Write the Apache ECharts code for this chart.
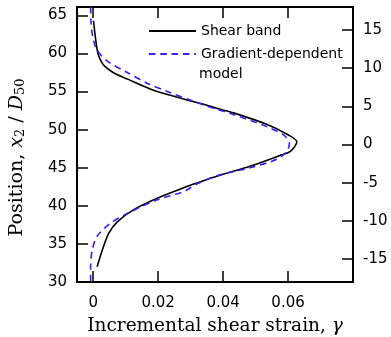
<!DOCTYPE html>
<html>
<head>
<meta charset="utf-8">
<script src="https://cdn.jsdelivr.net/npm/echarts@6/dist/echarts.min.js"></script>
<style>
  html, body { margin: 0; padding: 0; background: #fff; }
  #chart { width: 391px; height: 337px; }
</style>
</head>
<body>
<div id="chart"></div>
<script>
// Shear band profile vs gradient-dependent model: position (x2/D50) against incremental shear strain.
const shearBandPos = [64.3, 63.8, 62.0, 60.1, 59.0, 58.3, 57.4, 56.6, 55.8, 55.0, 53.9, 53.4, 52.8, 52.2,
  50.7, 49.3, 48.4, 47.1, 46.6, 45.2, 44.0, 43.0, 42.4, 41.0, 39.5, 37.9, 36.4, 34.2, 32.0];
const shearBandStrain = [0.0001, 0.0002, 0.0007, 0.0014, 0.0024, 0.0036, 0.0065, 0.0108, 0.0150, 0.0197,
  0.0289, 0.0335, 0.0380, 0.0432, 0.0534, 0.0601, 0.0627, 0.0606, 0.0575, 0.0483, 0.0390, 0.0320, 0.0280,
  0.0197, 0.0125, 0.0074, 0.0048, 0.0028, 0.0012];

const modelPos = [66.1, 64.3, 62.3, 60.5, 59.0, 57.5, 56.1, 55.0, 53.7, 52.8, 52.0, 50.4, 49.3, 48.2,
  47.1, 46.1, 45.0, 44.0, 42.9, 41.9, 40.8, 39.0, 37.7, 36.0, 34.2, 32.0, 30.0];
const modelStrain = [-0.0008, -0.0007, -0.0002, 0.0011, 0.0043, 0.0105, 0.0166, 0.0228, 0.0310, 0.0371,
  0.0430, 0.0534, 0.0586, 0.0604, 0.0596, 0.0565, 0.0483, 0.0385, 0.0320, 0.0280, 0.0197, 0.0105, 0.0053,
  0.0012, -0.0003, -0.0008, -0.0008];

const strainTicks = [0, 0.02, 0.04, 0.06];
const posTicks = [30, 35, 40, 45, 50, 55, 60, 65];
const centredTicks = [-15, -10, -5, 0, 5, 10, 15];

// mirror axes (top, right) are category axes so their inward ticks can sit off the range ends
const topSlots = [];
for (let i = 0; i <= 17; i++) topSlots.push(Math.round((-0.005 + i * 0.005) * 1000) / 1000);
const rightSlots = [];
for (let v = -18; v <= 18; v++) rightSlots.push(String(v));

const SANS = "DejaVu Sans";
const SERIF = "DejaVu Serif";
const BLUE = "#3a1ef0";

const axisLine = { show: true, onZero: false, lineStyle: { color: "#000", width: 2 } };
const tickLine = { color: "#000", width: 1.5 };
const label = (values, margin) => ({ show: true, customValues: values, margin,
  color: "#000", fontFamily: SANS, fontSize: 15 });

const chart = echarts.init(document.getElementById("chart"), null, { renderer: "canvas" });
chart.setOption({
  animation: false,
  grid: { left: 77, right: 38, top: 7, bottom: 55, outerBoundsMode: "none", containLabel: false },
  legend: {
    orient: "vertical",
    left: 143, top: 19,
    itemWidth: 47, itemHeight: 14, itemGap: 9,
    itemStyle: { opacity: 0 },
    textStyle: { color: "#000", fontFamily: SANS, fontSize: 14 },
    data: ["Shear band", "Gradient-dependent"],
  },
  graphic: [{
    type: "text", left: 199, top: 67,
    style: { text: "model", fill: "#000", font: `14px "${SANS}"` },
  }],
  xAxis: [{
    type: "value", position: "bottom", min: -0.005, max: 0.08,
    axisLine,
    // inside ticks don't draw with customValues, so flip outside ticks inward
    axisTick: { show: true, inside: false, length: -11, customValues: strainTicks, lineStyle: tickLine },
    axisLabel: label(strainTicks, 14),
    splitLine: { show: false },
    name: "Incremental shear strain, {i|γ}", nameLocation: "middle", nameGap: 35,
    nameTextStyle: { color: "#000", fontFamily: SERIF, fontSize: 18.5,
      rich: { i: { fontFamily: SERIF, fontStyle: "italic", fontSize: 18.5 } } },
  }, {
    type: "category", position: "top", boundaryGap: false, data: topSlots,
    axisLine,
    axisTick: { show: true, inside: true, length: 11, lineStyle: tickLine,
      interval: (i, v) => strainTicks.includes(Number(v)) },
    axisLabel: { show: false },
    splitLine: { show: false },
  }],
  yAxis: [{
    type: "value", position: "left", min: 30, max: 66.1, interval: 5,
    axisLine, axisTick: { show: true, inside: true, length: 11, lineStyle: tickLine },
    axisLabel: label(posTicks, 10),
    splitLine: { show: false },
    name: "Position, {i|x}{s|2} / {i|D}{s|50}", nameLocation: "middle", nameGap: 50,
    nameTextStyle: { color: "#000", fontFamily: SERIF, fontSize: 19, padding: [0, 26, 0, 0],
      rich: {
        i: { fontFamily: SERIF, fontStyle: "italic", fontSize: 19 },
        s: { fontFamily: SERIF, fontSize: 13, verticalAlign: "bottom", lineHeight: 14 },
      } },
  }, {
    type: "category", position: "right", boundaryGap: false, data: rightSlots,
    axisLine,
    axisTick: { show: true, inside: true, length: 11, lineStyle: tickLine,
      interval: (i, v) => centredTicks.includes(Number(v)) },
    axisLabel: { show: true, margin: 10, color: "#000", fontFamily: SANS, fontSize: 15,
      interval: (i, v) => centredTicks.includes(Number(v)) },
    splitLine: { show: false },
  }],
  series: [{
    name: "Shear band", type: "line", xAxisIndex: 0, yAxisIndex: 0,
    data: shearBandPos.map((p, i) => [shearBandStrain[i], p]),
    showSymbol: false, symbol: "none", smooth: 0.3,
    lineStyle: { color: "#000", width: 1.6 }, itemStyle: { color: "#000" },
  }, {
    name: "Gradient-dependent", type: "line", xAxisIndex: 0, yAxisIndex: 0,
    data: modelPos.map((p, i) => [modelStrain[i], p]),
    showSymbol: false, symbol: "none", smooth: 0.3,
    lineStyle: { color: BLUE, width: 1.6, type: [6.5, 4.8] }, itemStyle: { color: BLUE },
  }],
});
</script>
</body>
</html>
